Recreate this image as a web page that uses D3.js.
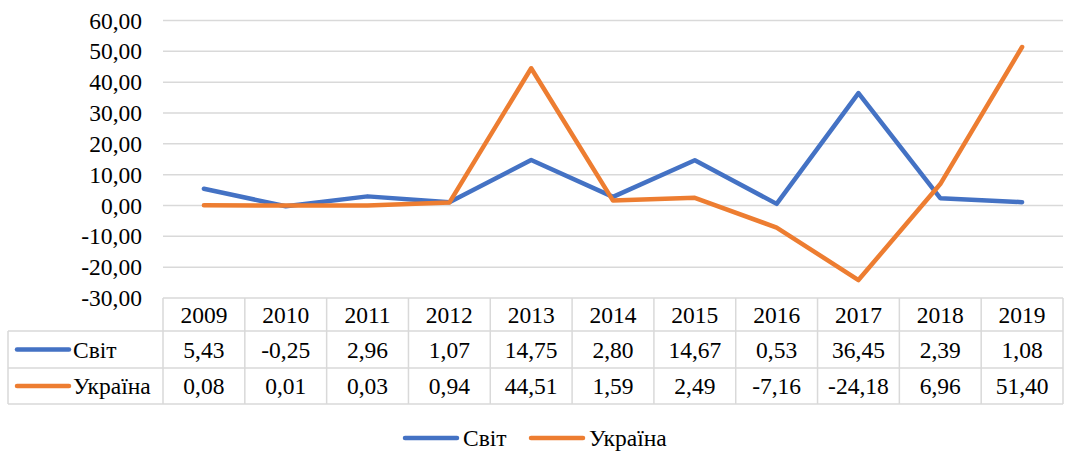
<!DOCTYPE html>
<html>
<head>
<meta charset="utf-8">
<script src="https://cdn.jsdelivr.net/npm/d3@7"></script>
<style>
  html, body { margin: 0; padding: 0; background: #fff; }
  svg { display: block; }
</style>
</head>
<body>
<svg id="chart" width="1065" height="452"></svg>
<script>
// Роки та значення рядів
const years = ["2009", "2010", "2011", "2012", "2013", "2014", "2015", "2016", "2017", "2018", "2019"];
const world = [5.43, -0.25, 2.96, 1.07, 14.75, 2.80, 14.67, 0.53, 36.45, 2.39, 1.08];
const ukraine = [0.08, 0.01, 0.03, 0.94, 44.51, 1.59, 2.49, -7.16, -24.18, 6.96, 51.40];
const seriesNames = ["Світ", "Україна"];
const seriesColors = ["#4472C4", "#ED7D31"];
const yTicks = [-30, -20, -10, 0, 10, 20, 30, 40, 50, 60];

(function draw() {
  const series = [
    { name: seriesNames[0], values: world, color: seriesColors[0] },
    { name: seriesNames[1], values: ukraine, color: seriesColors[1] }
  ];

  const fmt = v => d3.format(".2f")(v).replace(".", ",").replace("−", "-");

  const svg = d3.select("#chart");
  const plotLeft = 163, plotRight = 1063, plotTop = 20.5, plotBottom = 298;
  const tableLeft = 8;
  const rowEdges = [298, 331, 368, 404];
  const gridColor = "#d9d9d9";
  const fontSize = 23.5;

  const label = sel => sel
    .style("font-family", "'Liberation Serif'")
    .style("font-size", fontSize + "px")
    .attr("fill", "#000");

  const x = d3.scaleBand().domain(years).range([plotLeft, plotRight]).padding(0);
  const y = d3.scaleLinear().domain([-30, 60]).range([plotBottom, plotTop]);

  // Горизонтальна сітка
  svg.append("g")
    .selectAll("line")
    .data(yTicks.filter(t => t !== -30))
    .join("line")
    .attr("x1", plotLeft).attr("x2", plotRight)
    .attr("y1", d => y(d)).attr("y2", d => y(d))
    .attr("stroke", gridColor).attr("stroke-width", 1.5);

  // Вісь Y
  const yAxis = d3.axisLeft(y).tickValues(yTicks).tickSize(0).tickPadding(21).tickFormat(fmt);
  svg.append("g")
    .attr("transform", `translate(${plotLeft},0)`)
    .call(yAxis)
    .call(g => g.select(".domain").remove())
    .call(g => g.attr("font-family", null).attr("font-size", null))
    .call(g => g.selectAll("text").call(label));

  // Лінії рядів
  const line = d3.line()
    .x((d, i) => x(years[i]) + x.bandwidth() / 2)
    .y(d => y(d));

  svg.append("g")
    .selectAll("path")
    .data(series)
    .join("path")
    .attr("d", d => line(d.values))
    .attr("fill", "none")
    .attr("stroke", d => d.color)
    .attr("stroke-width", 4.5)
    .attr("stroke-linejoin", "round")
    .attr("stroke-linecap", "round");

  // Таблиця даних
  const table = svg.append("g").attr("stroke", gridColor).attr("stroke-width", 1.5);
  table.append("line").attr("x1", plotLeft).attr("x2", plotRight).attr("y1", rowEdges[0]).attr("y2", rowEdges[0]);
  [1, 2, 3].forEach(r => {
    table.append("line").attr("x1", tableLeft).attr("x2", plotRight).attr("y1", rowEdges[r]).attr("y2", rowEdges[r]);
  });
  table.append("line").attr("x1", tableLeft).attr("x2", tableLeft).attr("y1", rowEdges[1]).attr("y2", rowEdges[3]);
  years.forEach(yr => {
    table.append("line").attr("x1", x(yr)).attr("x2", x(yr)).attr("y1", rowEdges[0]).attr("y2", rowEdges[3]);
  });
  table.append("line").attr("x1", plotRight).attr("x2", plotRight).attr("y1", rowEdges[0]).attr("y2", rowEdges[3]);

  // Заголовки років
  svg.append("g")
    .selectAll("text")
    .data(years)
    .join("text")
    .attr("x", d => x(d) + x.bandwidth() / 2)
    .attr("y", (rowEdges[0] + rowEdges[1]) / 2)
    .attr("dy", "0.35em")
    .attr("text-anchor", "middle")
    .call(label)
    .text(d => d);

  // Рядки значень
  series.forEach((s, r) => {
    const cy = (rowEdges[r + 1] + rowEdges[r + 2]) / 2;
    const g = svg.append("g");
    g.append("line")
      .attr("x1", 17).attr("x2", 69)
      .attr("y1", cy).attr("y2", cy)
      .attr("stroke", s.color).attr("stroke-width", 4.5).attr("stroke-linecap", "round");
    g.append("text")
      .attr("x", 73).attr("y", cy).attr("dy", "0.35em")
      .call(label)
      .text(s.name);
    g.selectAll("text.v")
      .data(s.values)
      .join("text")
      .attr("class", "v")
      .attr("x", (d, i) => x(years[i]) + x.bandwidth() / 2)
      .attr("y", cy).attr("dy", "0.35em")
      .attr("text-anchor", "middle")
      .call(label)
      .text(d => fmt(d));
  });

  // Легенда
  const legendY = 438;
  const legendItems = [
    { x: 405, textX: 463 },
    { x: 531, textX: 589 }
  ];
  series.forEach((s, i) => {
    const it = legendItems[i];
    svg.append("line")
      .attr("x1", it.x).attr("x2", it.x + 52)
      .attr("y1", legendY).attr("y2", legendY)
      .attr("stroke", s.color).attr("stroke-width", 4.5).attr("stroke-linecap", "round");
    svg.append("text")
      .attr("x", it.textX).attr("y", legendY).attr("dy", "0.35em")
      .call(label)
      .text(s.name);
  });
})();
</script>
</body>
</html>
